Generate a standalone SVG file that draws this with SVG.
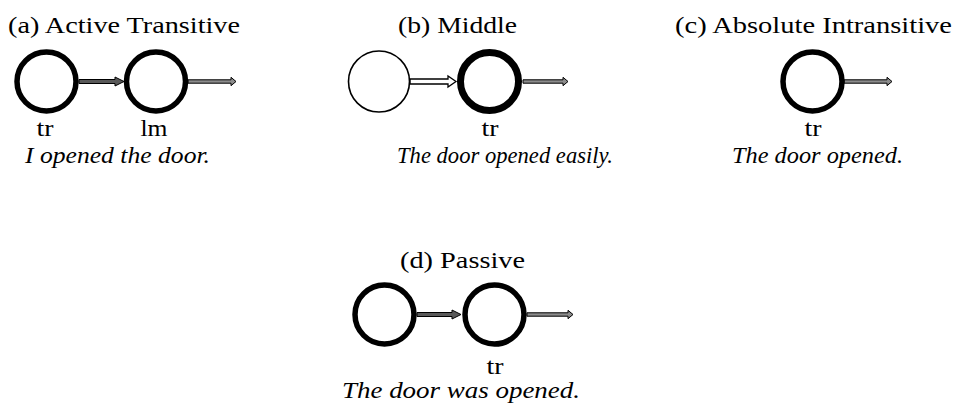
<svg xmlns="http://www.w3.org/2000/svg" width="954" height="403" viewBox="0 0 954 403">
<style>
text{font-family:'Liberation Serif',serif;font-size:23px;fill:#000}
.it{font-style:italic}
.mid{text-anchor:middle}
.thick{fill:#fff;stroke:#000;stroke-width:5.5}
.heavy{fill:#fff;stroke:#000;stroke-width:7}
.thin{fill:#fff;stroke:#000;stroke-width:1.6}
.grey{fill:#595959;stroke:#000;stroke-width:1}
.lite{fill:#8c8c8c;stroke:#000;stroke-width:1}
.hollow{fill:#fff;stroke:#000;stroke-width:1.3}
</style>
<rect width="954" height="403" fill="#fff"/>
<g id="connectors">
<path class="grey" d="M79,79.5 H115 V77 L124,81.5 L115,86 V83.5 H79 Z"/>
<path class="lite" d="M188,79.8 H231 V77.3 L236,81.5 L231,85.7 V83.2 H188 Z"/>
<path class="hollow" d="M410,79 H448 V76 L456,81.5 L448,87 V84 H410 Z"/>
<path class="lite" d="M523,79.8 H563 V77.3 L568,81.5 L563,85.7 V83.2 H523 Z"/>
<path class="lite" d="M844,79.8 H887 V77.3 L892,81.5 L887,85.7 V83.2 H844 Z"/>
<path class="grey" d="M417,312.5 H452 V310 L461,314.5 L452,319 V316.5 H417 Z"/>
<path class="lite" d="M527,312.8 H568 V310.3 L573,314.5 L568,318.7 V316.2 H527 Z"/>
</g>
<g id="panel-a">
<text x="8" y="33" textLength="232" lengthAdjust="spacingAndGlyphs">(a) Active Transitive</text>
<g id="a-tr"><circle class="thick" cx="46.5" cy="81.5" r="29.5"/><text class="mid" x="45" y="136" textLength="17" lengthAdjust="spacingAndGlyphs">tr</text></g>
<g id="a-lm"><circle class="thick" cx="156" cy="81.5" r="29.5"/><text class="mid" x="154" y="136" textLength="27" lengthAdjust="spacingAndGlyphs">lm</text></g>
<text class="it" x="25" y="163" textLength="185" lengthAdjust="spacingAndGlyphs">I opened the door.</text>
</g>
<g id="panel-b">
<text x="398" y="33" textLength="119" lengthAdjust="spacingAndGlyphs">(b) Middle</text>
<g id="b-source"><circle class="thin" cx="379" cy="81.5" r="30.5"/></g>
<g id="b-tr"><circle class="heavy" cx="489.5" cy="81.5" r="29"/><text class="mid" x="490" y="136" textLength="17" lengthAdjust="spacingAndGlyphs">tr</text></g>
<text class="it" x="397" y="163" textLength="216" lengthAdjust="spacingAndGlyphs">The door opened easily.</text>
</g>
<g id="panel-c">
<text x="675" y="33" textLength="277" lengthAdjust="spacingAndGlyphs">(c) Absolute Intransitive</text>
<g id="c-tr"><circle class="thick" cx="812.5" cy="81.5" r="29.5"/><text class="mid" x="813" y="136" textLength="17" lengthAdjust="spacingAndGlyphs">tr</text></g>
<text class="it" x="732" y="163" textLength="171" lengthAdjust="spacingAndGlyphs">The door opened.</text>
</g>
<g id="panel-d">
<text x="400" y="268" textLength="125" lengthAdjust="spacingAndGlyphs">(d) Passive</text>
<g id="d-source"><circle class="thick" cx="384.5" cy="314.5" r="29.5"/></g>
<g id="d-tr"><circle class="thick" cx="494.5" cy="314.5" r="29.5"/><text class="mid" x="495" y="374" textLength="17" lengthAdjust="spacingAndGlyphs">tr</text></g>
<text class="it" x="342" y="398" textLength="238" lengthAdjust="spacingAndGlyphs">The door was opened.</text>
</g>
</svg>
